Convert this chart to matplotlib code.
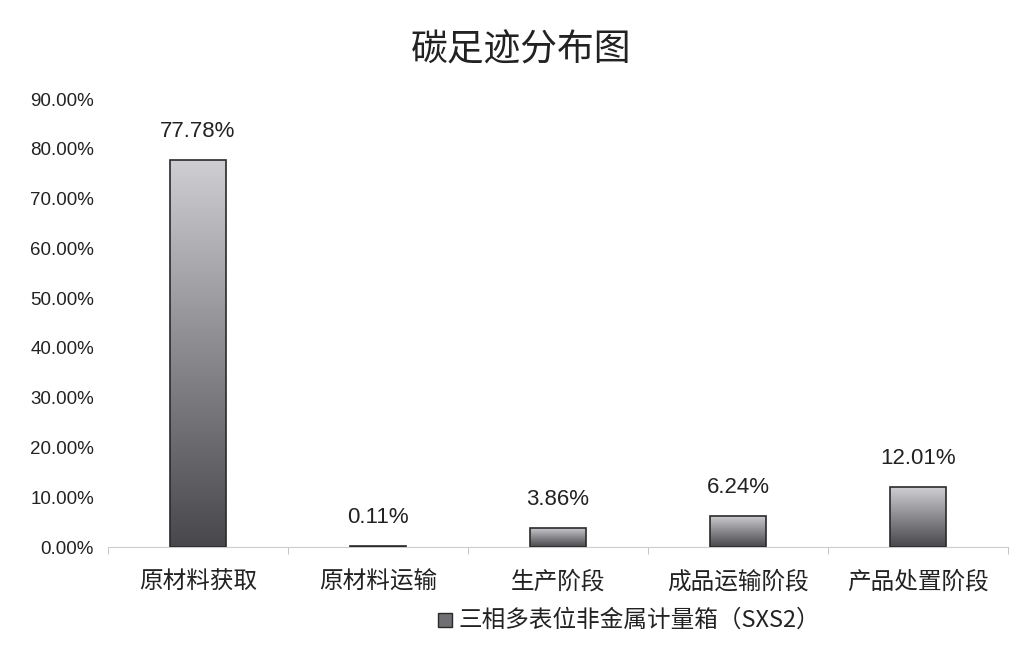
import matplotlib
matplotlib.use("Agg")
import matplotlib.pyplot as plt
import numpy as np
from matplotlib.patches import Rectangle

categories = ["原材料获取", "原材料运输", "生产阶段", "成品运输阶段", "产品处置阶段"]
values = [77.78, 0.11, 3.86, 6.24, 12.01]
labels = ["77.78%", "0.11%", "3.86%", "6.24%", "12.01%"]
yticks = [0, 10, 20, 30, 40, 50, 60, 70, 80, 90]
series_name = "三相多表位非金属计量箱（SXS2）"
title = "碳足迹分布图"

CJK = ["Noto Sans CJK SC", "DejaVu Sans"]
NUM = ["Liberation Sans", "Noto Sans CJK SC"]

fig = plt.figure(figsize=(10.19, 6.45), dpi=100)
fig.patch.set_facecolor("white")
ax = fig.add_axes([108/1019, 98/645, 900/1019, 448/645])

x = np.arange(len(categories))
bars = ax.bar(x, values, width=0.31, color="none", edgecolor="#2a2a2a", linewidth=1.2, zorder=3)

grad = np.linspace(0, 1, 256).reshape(-1, 1)
cmap = matplotlib.colors.LinearSegmentedColormap.from_list("g", ["#48484c", "#8a8a8e", "#cfcfd3"])
for b in bars:
    bx, by = b.get_x(), b.get_y()
    w, h = b.get_width(), b.get_height()
    im = ax.imshow(grad, extent=[bx, bx + w, by, by + h], origin="lower", aspect="auto",
                   cmap=cmap, zorder=2)
    im.set_clip_path(b)

for xi, v, lab in zip(x, values, labels):
    ax.annotate(lab, (xi, v), xytext=(0, 13), textcoords="offset points", ha="center", va="bottom",
                fontsize=16, family=NUM, color="#222222")

ax.set_xlim(-0.5, len(categories) - 0.5)
ax.set_ylim(0, 90)
ax.set_yticks(yticks)
ax.set_yticklabels([f"{t:.2f}%" for t in yticks], family=NUM, fontsize=13.5, color="#222222")
ax.set_xticks(x)
ax.set_xticklabels(categories, family=CJK, fontsize=17, color="#222222")
ax.tick_params(axis="y", length=0, pad=10)
ax.tick_params(axis="x", length=0, pad=17)
ax.set_xticks(np.arange(-0.5, len(categories), 1.0), minor=True)
ax.tick_params(axis="x", which="minor", length=5, color="#bbbbbb")
for s in ["top", "right", "left"]:
    ax.spines[s].set_visible(False)
ax.spines["bottom"].set_color("#cccccc")
ax.set_facecolor("none")

fig.text(521/1019, 1 - 50/645, title, ha="center", va="center", family=CJK, fontsize=26.5, color="#222222")

# legend
lx, ly = 438/1019, 1 - 620/645
sq = Rectangle((lx, ly - 7/645), 14/1019, 14/645, transform=fig.transFigure,
               facecolor="#707074", edgecolor="#2a2a2a", linewidth=1)
fig.patches.append(sq)
fig.text(lx + 20/1019, ly, series_name, ha="left", va="center", family=CJK, fontsize=17, color="#222222")

fig.savefig("out.png", dpi=100, facecolor="white")
